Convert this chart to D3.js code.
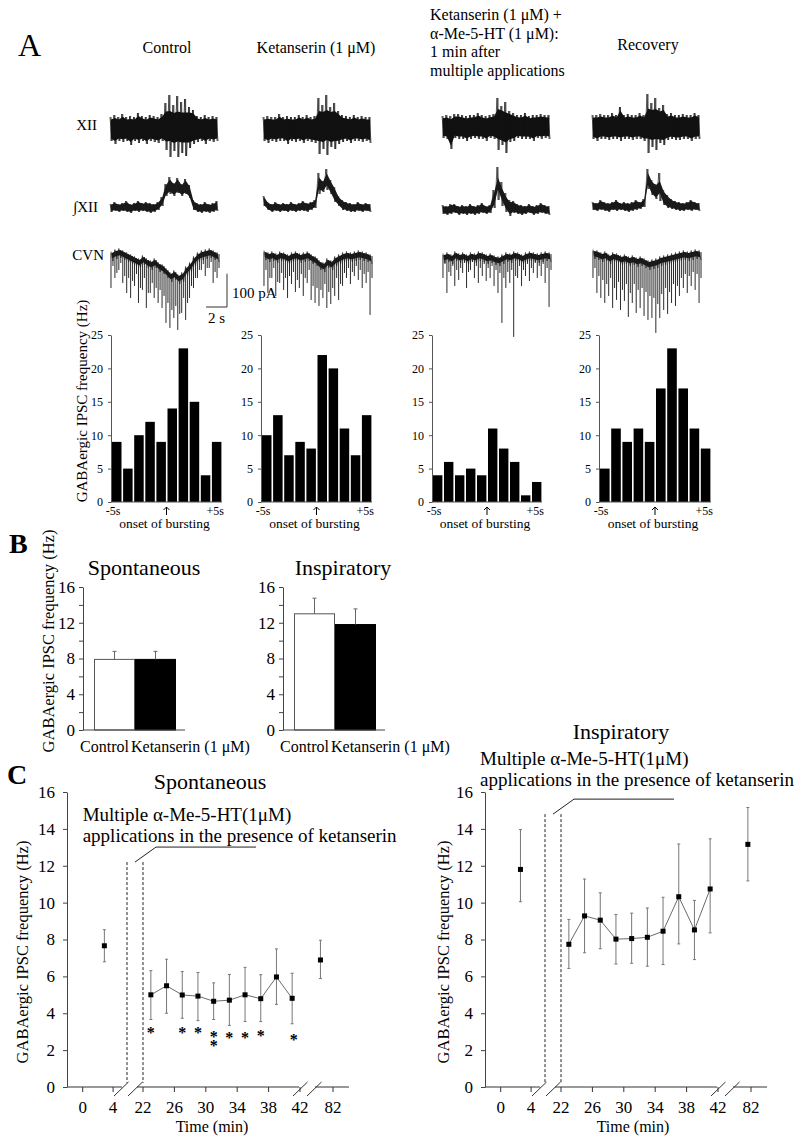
<!DOCTYPE html>
<html><head><meta charset="utf-8">
<script src="https://cdn.jsdelivr.net/npm/d3@7"></script>
<style>
body{margin:0;background:#fff;}
svg{display:block;}
text{font-family:"Liberation Serif","Times New Roman",Times,serif;fill:#000;}
</style></head><body>
<svg id="fig" width="800" height="1147"></svg>
<script>
// ================= DATA =================
const headerLines = [
  ["Control"],
  ["Ketanserin (1 μM)"],
  ["Ketanserin (1 μM) +", "α-Me-5-HT (1 μM):", "1 min after", "multiple applications"],
  ["Recovery"]
];
// Trace envelopes (28 samples over a 10.5 s window), one row per condition
const traceDur = 10.5; // s
// XII nerve: upper / lower envelope (a.u.)
const xiiUp = [
  [12,14,12,15,12,13,12,16,13,12,14,13,12,15,26,34,24,33,27,30,22,19,13,12,14,12,13,12],
  [12,13,12,12,15,12,13,12,12,14,12,14,12,13,31,24,34,22,26,18,14,13,12,14,12,13,12,12],
  [11,12,11,13,13,12,11,12,12,14,12,11,12,13,29,21,25,16,14,12,12,14,11,12,12,13,12,12],
  [12,12,13,12,12,14,12,20,12,13,12,12,14,12,33,24,29,19,22,13,14,12,12,13,12,12,14,12]
];
const xiiDn = [
  [12,15,12,13,12,16,12,14,12,15,12,13,14,12,21,28,22,28,24,27,19,15,13,12,15,12,13,12],
  [12,14,12,13,12,12,15,12,13,12,14,12,13,14,25,20,26,18,20,15,13,12,14,12,12,13,12,14],
  [11,12,22,11,12,12,14,12,11,12,12,14,11,12,23,18,26,15,14,11,12,12,12,14,11,12,11,12],
  [12,14,12,12,13,12,12,14,12,12,13,12,12,14,26,20,23,16,18,13,12,13,13,12,12,14,12,12]
];
// Integrated XII: upper / lower envelope (a.u. above baseline)
const intHi = [
  [4,6,4,5,7,4,5,7,5,6,5,4,6,11,24,31,25,30,24,29,23,8,5,4,6,4,5,7],
  [12,6,4,6,4,5,4,6,4,5,7,5,6,8,35,27,39,28,21,12,8,6,5,4,6,4,5,4],
  [5,4,6,6,4,5,4,6,4,5,7,4,5,20,43,28,17,10,9,6,5,4,6,4,5,7,5,4],
  [5,4,7,5,4,5,7,4,5,4,5,7,5,8,38,27,23,34,17,12,8,6,5,4,5,7,5,4]
];
const intLo = [
  [-4,-3,-4,-3,-4,-5,-3,-4,-3,-4,-5,-4,-2,2,12,14,12,15,12,14,10,-2,-4,-5,-4,-5,-4,-3],
  [2,-2,-4,-3,-4,-3,-4,-3,-4,-3,-3,-4,-2,0,14,16,18,14,6,2,-2,-3,-4,-4,-3,-4,-3,-4],
  [-4,-5,-4,-3,-5,-4,-5,-4,-5,-4,-3,-4,-3,2,10,4,-2,-6,-3,-4,-5,-4,-3,-5,-4,-3,-4,-5],
  [-3,-4,-3,-4,-5,-3,-4,-3,-4,-5,-4,-3,-2,0,18,12,8,6,2,-1,-2,-3,-4,-4,-3,-4,-3,-4]
];
// CVN whole-cell current (pA): upper baseline envelope (28 samples) and IPSC peaks (56 events)
const cvnTop = [
  [-15,-9,-6,-12,-18,-24,-30,-36,-27,-36,-42,-36,-48,-54,-66,-78,-72,-84,-78,-60,-48,-30,-18,-12,-9,-6,-12,-18],
  [-12,-18,-15,-21,-15,-18,-24,-18,-15,-21,-18,-15,-24,-30,-42,-48,-36,-42,-30,-24,-18,-15,-18,-15,-12,-15,-18,-24],
  [-21,-18,-24,-15,-21,-18,-24,-18,-21,-15,-18,-24,-21,-27,-30,-24,-18,-21,-15,-18,-24,-18,-15,-18,-21,-18,-15,-18],
  [-9,-12,-18,-15,-24,-18,-21,-27,-24,-30,-27,-33,-30,-36,-42,-39,-36,-30,-27,-24,-21,-18,-15,-12,-15,-12,-9,-12]
];
const cvnPeak = [
  [-120,-54,-90,-75,-66,-45,-105,-84,-135,-90,-150,-99,-114,-78,-165,-120,-126,-90,-180,-135,-135,-105,-150,-120,-165,-126,-180,-144,
   -225,-165,-240,-186,-210,-174,-246,-198,-195,-150,-216,-165,-150,-114,-120,-90,-90,-66,-66,-48,-84,-60,-60,-42,-105,-72,-90,-60],
  [-114,-66,-135,-90,-90,-60,-144,-102,-105,-75,-126,-90,-150,-84,-108,-72,-132,-96,-120,-78,-144,-90,-105,-66,-156,-114,-165,-120,
   -174,-126,-150,-108,-180,-132,-168,-120,-144,-90,-156,-108,-114,-75,-90,-60,-108,-72,-84,-54,-96,-66,-120,-78,-105,-72,-201,-90],
  [-90,-48,-135,-72,-84,-54,-114,-66,-96,-60,-75,-45,-120,-72,-66,-42,-90,-54,-105,-60,-84,-48,-99,-60,-90,-54,-114,-66,
   -135,-75,-225,-90,-120,-72,-105,-66,-267,-84,-90,-54,-114,-66,-84,-48,-99,-60,-75,-45,-90,-54,-84,-48,-105,-60,-177,-66],
  [-90,-60,-135,-84,-150,-96,-165,-108,-144,-90,-180,-120,-156,-102,-186,-126,-159,-108,-207,-135,-165,-108,-195,-126,-180,-120,-204,-132,
   -216,-144,-210,-150,-255,-168,-210,-138,-186,-120,-198,-132,-165,-108,-174,-114,-144,-90,-120,-78,-135,-84,-114,-72,-126,-78,-165,-90]
];
// Histograms: GABAergic IPSC frequency (Hz), 1-s bins from -5 s to +5 s
const histBinStart = [-5,-4,-3,-2,-1,0,1,2,3,4];
const histControl    = [9,5,10,12,9,14,23,15,4,9];
const histKetanserin = [10,13,7,9,8,22,20,11,7,13];
const histKetAlphaMe = [4,6,4,5,4,11,8,6,1,3];
const histRecovery   = [5,11,9,11,9,17,23,17,11,8];
const histTicks = [0,5,10,15,20,25];
// Panel B
const barGroups = ["Control", "Ketanserin (1 μM)"];
const spontBarMean = [7.9, 7.9];
const spontBarErr  = [0.9, 0.9];
const inspBarMean  = [13.0, 11.8];
const inspBarErr   = [1.75, 1.75];
const bTicks = [0,2,4,6,8,10,12,14,16];
// Panel C
const cTickVals = [0,4,22,26,30,34,38,42,82];
const yTicksC = [0,2,4,6,8,10,12,14,16];
const appTimes = [23,25,27,29,31,33,35,37,39,41];
const spontMean = [5.0,5.49,4.99,4.93,4.65,4.71,5.0,4.79,5.97,4.81];
const spontHi   = [6.31,6.93,6.26,6.21,5.65,6.1,6.49,6.09,7.49,6.17];
const spontLo   = [3.66,4.0,3.73,3.6,3.66,3.34,3.55,3.55,4.48,3.43];
const spontCtrl = [2.85, 7.66, 8.53, 6.79];   // time, mean, hi, lo
const spontRec  = [80.4, 6.89, 7.96, 5.88];
// significance marks: time, level (Hz), number of asterisks stacked
const spontSigT = [23,27,29,31,33,35,37,41.2];
const spontSigV = [3.05,3.05,3.05,2.85,2.77,2.77,2.9,2.7];
const spontSigN = [1,1,1,2,1,1,1,1];
const inspMean = [7.74,9.28,9.05,8.02,8.05,8.12,8.45,10.32,8.52,10.74];
const inspHi   = [9.09,11.28,10.53,9.36,9.43,9.71,10.29,13.18,10.12,13.46];
const inspLo   = [6.43,7.28,7.5,6.67,6.71,6.55,6.64,7.76,6.91,8.36];
const inspCtrl = [2.6, 11.8, 13.96, 10.05];
const inspRec  = [81.6, 13.16, 15.16, 11.18];

// ================= DRAW =================
const svg = d3.select("#fig");
const SANS = '"Liberation Sans",Arial,sans-serif';
function label(x, y, s, size, anchor, extra) {
  const t = svg.append("text").attr("x", x).attr("y", y)
    .attr("font-size", size).attr("text-anchor", anchor || "start").text(s);
  if (extra) for (const k in extra) t.attr(k, extra[k]);
  return t;
}
function styleAxis(g, size, color) {
  g.attr("font-family", '"Liberation Serif","Times New Roman",serif').attr("font-size", size);
  g.selectAll("path,line").attr("stroke", color || "#444");
  g.selectAll("text").attr("fill", "#000");
}

// Panel letters
label(18, 56, "A", 32);
label(9, 553, "B", 28, "start", {"font-weight": "bold"});
label(7, 784, "C", 28, "start", {"font-weight": "bold"});

// Headers
const headerX = [167, 316, 430, 648];
const headerAnchor = ["middle", "middle", "start", "middle"];
const headerBase = [53, 53, 20, 50];
headerLines.forEach((lines, c) => {
  lines.forEach((s, k) => label(headerX[c], headerBase[c] + k * 18.5, s, 16, headerAnchor[c]));
});

// Row labels
label(97, 130, "XII", 15, "end", {"font-family": SANS});
label(98, 212, "∫XII", 15, "end", {"font-family": SANS});
label(104, 260, "CVN", 15, "end");

// Traces
const traceLeft = [110, 263, 442, 592];
const traceWidth = 110;
const xiiMid = [129, 129, 127, 127];
const intBase = [208, 208, 210, 207];
const cvnBase = 248;

function drawBand(xs, ys, hi, lo, dt, coreMax, color) {
  const idx = d3.range(hi.length);
  const mid = i => (hi[i] + lo[i]) / 2;
  const half = i => Math.min(0.8 * (hi[i] - lo[i]) / 2, coreMax);
  const area = d3.area()
    .x(i => xs(i * dt + dt / 4))
    .y0(i => ys(mid(i) - half(i)))
    .y1(i => ys(mid(i) + half(i)));
  svg.append("path").attr("d", area(idx)).attr("fill", color);
  const pts = [];
  idx.forEach(i => { pts.push([xs(i * dt), ys(hi[i])]); pts.push([xs(i * dt + dt / 2), ys(lo[i])]); });
  svg.append("path").attr("d", d3.line()(pts)).attr("fill", "none")
    .attr("stroke", color).attr("stroke-width", 0.7);
  svg.append("g").selectAll("line").data(idx).join("line")
    .attr("x1", i => xs(i * dt + dt / 4)).attr("x2", i => xs(i * dt + dt / 4))
    .attr("y1", i => ys(hi[i])).attr("y2", i => ys(lo[i]))
    .attr("stroke", color).attr("stroke-width", 0.8);
}

let cvnScale, timeScale0;
traceLeft.forEach((x0, c) => {
  const n = xiiUp[c].length, dt = traceDur / n;
  const xs = d3.scaleLinear().domain([0, traceDur]).range([x0, x0 + traceWidth]);
  if (c === 0) timeScale0 = xs;
  const yX = d3.scaleLinear().domain([0, 1]).range([xiiMid[c], xiiMid[c] - 1]);
  drawBand(xs, yX, xiiUp[c], xiiDn[c].map(v => -v), dt, 15, "#111");
  const yI = d3.scaleLinear().domain([0, 1]).range([intBase[c], intBase[c] - 1]);
  drawBand(xs, yI, intHi[c], intLo[c], dt, 6, "#1a1a1a");
  const yC = d3.scaleLinear().domain([0, -100]).range([cvnBase, cvnBase + 33.3]);
  if (c === 0) cvnScale = yC;
  const idx = d3.range(n);
  const m = cvnPeak[c].length, de = traceDur / m;
  svg.append("g").selectAll("line").data(d3.range(m)).join("line")
    .attr("x1", j => xs(j * de + de / 2)).attr("x2", j => xs(j * de + de / 2))
    .attr("y1", j => yC(cvnTop[c][Math.floor(j * n / m)]))
    .attr("y2", j => yC(cvnPeak[c][j]))
    .attr("stroke", "#2a2a2a").attr("stroke-width", 1);
  const band = d3.area().x(i => xs(i * dt + dt / 2))
    .y0(i => yC(cvnTop[c][i])).y1(i => yC(cvnTop[c][i] - 16));
  svg.append("path").attr("d", band(idx)).attr("fill", "#151515");
  const zz = [];
  idx.forEach(i => { zz.push([xs(i * dt + dt / 4), yC(cvnTop[c][i]) - 1.5]); zz.push([xs(i * dt + dt * 0.75), yC(cvnTop[c][i] - 24)]); });
  svg.append("path").attr("d", d3.line()(zz)).attr("fill", "none").attr("stroke", "#222").attr("stroke-width", 0.7);
});

// Scale bar (2 s, 100 pA)
{
  const w = timeScale0(2) - timeScale0(0);
  const h = cvnScale(-100) - cvnScale(0);
  const sx = 227, sy = 307;
  svg.append("path").attr("d", `M${sx - w},${sy}H${sx}V${sy - h}`)
    .attr("fill", "none").attr("stroke", "#333").attr("stroke-width", 1);
  label(232, 298, "100 pA", 15);
  label(sx - w / 2, 323, "2 s", 15, "middle");
}

// Histograms
const histCounts = [histControl, histKetanserin, histKetAlphaMe, histRecovery];
const histAxisX = [111, 261, 432, 599];
const histW = [111, 111, 110, 112];
const yH = d3.scaleLinear().domain([0, 25]).range([502, 335]);
histCounts.forEach((vals, c) => {
  const x0 = histAxisX[c];
  const xt = d3.scaleLinear().domain([-5, 5]).range([x0, x0 + histW[c]]);
  svg.append("g").selectAll("rect").data(vals).join("rect")
    .attr("x", (v, k) => xt(histBinStart[k]) + 1)
    .attr("width", xt(1) - xt(0) - 1.6)
    .attr("y", v => yH(v)).attr("height", v => yH(0) - yH(v))
    .attr("fill", "#000");
  const ax = svg.append("g").attr("transform", `translate(${x0},0)`)
    .call(d3.axisLeft(yH).tickValues(histTicks).tickSize(3).tickPadding(5).tickSizeOuter(0));
  styleAxis(ax, 12, "#555");
  svg.append("line").attr("x1", x0).attr("x2", x0 + histW[c]).attr("y1", yH(0)).attr("y2", yH(0))
    .attr("stroke", "#555");
  label(xt(-5) + 2, 515, "-5s", 12, "middle");
  label(xt(5) + 2, 515, "+5s", 12, "end");
  // onset arrow (drawn mark)
  const ax0 = xt(0);
  svg.append("path").attr("d", `M${ax0},515V507M${ax0 - 3},510L${ax0},507L${ax0 + 3},510`)
    .attr("fill", "none").attr("stroke", "#000").attr("stroke-width", 1);
  label(ax0 - 2, 528, "onset of bursting", 13.5, "middle");
});
label(0, 0, "GABAergic IPSC frequency (Hz)", 15, "middle",
  {"transform": "translate(82,401) rotate(-90)", "dominant-baseline": "central"});

// Panel B
const yB = d3.scaleLinear().domain([0, 16]).range([730, 587]);
[["Spontaneous", spontBarMean, spontBarErr, 83, 144],
 ["Inspiratory", inspBarMean, inspBarErr, 283, 343]].forEach(([title, means, errs, x0, tx]) => {
  const xb = d3.scaleBand().domain(barGroups).range([x0 + 11, x0 + 93]);
  const g = svg.append("g");
  g.selectAll("rect").data(means).join("rect")
    .attr("x", (m, i) => xb(barGroups[i]) + 0.5).attr("width", xb.bandwidth() - 1)
    .attr("y", m => yB(m)).attr("height", m => yB(0) - yB(m))
    .attr("fill", (m, i) => i === 0 ? "#fff" : "#000")
    .attr("stroke", (m, i) => i === 0 ? "#555" : "#000");
  means.forEach((m, i) => {
    const cx = xb(barGroups[i]) + xb.bandwidth() / 2;
    g.append("line").attr("x1", cx).attr("x2", cx).attr("y1", yB(m)).attr("y2", yB(m + errs[i]))
      .attr("stroke", "#666");
    g.append("line").attr("x1", cx - 2).attr("x2", cx + 2).attr("y1", yB(m + errs[i])).attr("y2", yB(m + errs[i]))
      .attr("stroke", "#666");
  });
  const ax = svg.append("g").attr("transform", `translate(${x0},0)`)
    .call(d3.axisLeft(yB).tickValues(bTicks).tickFormat(d => d % 4 === 0 ? d : "")
      .tickSize(4).tickPadding(4).tickSizeOuter(0));
  styleAxis(ax, 17, "#444");
  svg.append("line").attr("x1", x0).attr("x2", x0 + 102).attr("y1", yB(0)).attr("y2", yB(0)).attr("stroke", "#444");
  label(x0 + 46, 752, barGroups[0], 16, "end");
  label(x0 + 48, 752, barGroups[1], 16, "start");
  label(tx, 575, title, 22, "middle");
});
label(0, 0, "GABAergic IPSC frequency (Hz)", 16.5, "middle",
  {"transform": "translate(48,641) rotate(-90)", "dominant-baseline": "central"});

// Panel C
const yCh = d3.scaleLinear().domain([0, 16]).range([1087, 792]);
function xSeg(x0) {
  const s1 = d3.scaleLinear().domain([0, 4]).range([x0 + 15.7, x0 + 46.1]);
  const s2 = d3.scaleLinear().domain([22, 42]).range([x0 + 76, x0 + 233]);
  const s3 = d3.scaleLinear().domain([78, 82]).range([x0 + 234.6, x0 + 266]);
  return t => t < 10 ? s1(t) : (t < 60 ? s2(t) : s3(t));
}
function drawC(o) {
  const x0 = o.x0, xC = xSeg(x0), ay = yCh(0);
  const g = svg.append("g");
  const ax = svg.append("g").attr("transform", `translate(${x0},0)`)
    .call(d3.axisLeft(yCh).tickValues(yTicksC).tickSize(4).tickPadding(8).tickSizeOuter(0));
  styleAxis(ax, 17, "#444");
  [[0, 55], [70, 232], [248, 282]].forEach(([a, b]) =>
    g.append("line").attr("x1", x0 + a).attr("x2", x0 + b).attr("y1", ay).attr("y2", ay).attr("stroke", "#333"));
  [47, 61, 226, 240].forEach(a =>
    g.append("line").attr("x1", x0 + a).attr("y1", ay + 9).attr("x2", x0 + a + 14.5).attr("y2", ay - 5)
      .attr("stroke", "#333"));
  cTickVals.forEach(t => {
    g.append("line").attr("x1", xC(t)).attr("x2", xC(t)).attr("y1", ay).attr("y2", ay + 5).attr("stroke", "#333");
    label(xC(t), ay + 26, String(t), 17, "middle");
  });
  label(x0 + o.timeX, 1132, "Time (min)", 16, "middle");
  const dTop = yCh(o.dashTop);
  [60, 76].forEach(a => g.append("line").attr("x1", x0 + a).attr("x2", x0 + a)
    .attr("y1", dTop).attr("y2", ay - 4).attr("stroke", "#222").attr("stroke-dasharray", "3,2"));
  g.append("path").attr("d", `M${x0 + 68},${dTop}L${x0 + 89},${dTop - 15}H${x0 + 189}`)
    .attr("fill", "none").attr("stroke", "#222");
  label(x0 + o.annX, o.annY, "Multiple α-Me-5-HT(1μM)", 19);
  label(x0 + o.annX, o.annY + 21, "applications in the presence of ketanserin", 19);
  label(o.titleX, o.titleY, o.title, 22, "middle");
  label(0, 0, "GABAergic IPSC frequency (Hz)", 16.5, "middle",
    {"transform": `translate(${o.ylabX},952) rotate(-90)`, "dominant-baseline": "central"});
  const pts = o.times.map((t, i) => [t, o.mean[i], o.hi[i], o.lo[i]]);
  const all = [o.ctrl, ...pts, o.rec];
  all.forEach(([t, m, h, l]) => {
    g.append("line").attr("x1", xC(t)).attr("x2", xC(t)).attr("y1", yCh(h)).attr("y2", yCh(l)).attr("stroke", "#777");
    [h, l].forEach(v => g.append("line").attr("x1", xC(t) - 1.5).attr("x2", xC(t) + 1.5)
      .attr("y1", yCh(v)).attr("y2", yCh(v)).attr("stroke", "#777"));
  });
  g.append("path").attr("d", d3.line().x(d => xC(d[0])).y(d => yCh(d[1]))(pts))
    .attr("fill", "none").attr("stroke", "#444").attr("stroke-width", 0.8);
  g.selectAll("rect.pt").data(all).join("rect").attr("class", "pt")
    .attr("x", d => xC(d[0]) - 2.5).attr("y", d => yCh(d[1]) - 2.5)
    .attr("width", 5).attr("height", 5).attr("fill", "#000");
  if (o.sigT) o.sigT.forEach((t, i) => {
    const tx = label(xC(t), yCh(o.sigV[i]) + 7.5, "", 16, "middle", {"font-weight": "bold"});
    d3.range(o.sigN[i]).forEach(k => tx.append("tspan").attr("x", xC(t)).attr("dy", k === 0 ? 0 : 9).text("*"));
  });
}
drawC({x0: 67, times: appTimes, mean: spontMean, hi: spontHi, lo: spontLo, ctrl: spontCtrl, rec: spontRec,
  sigT: spontSigT, sigV: spontSigV, sigN: spontSigN, dashTop: 12.2, annX: 15.7, annY: 821, title: "Spontaneous",
  titleX: 210, titleY: 789, ylabX: 22, timeX: 145});
drawC({x0: 485, times: appTimes, mean: inspMean, hi: inspHi, lo: inspLo, ctrl: inspCtrl, rec: inspRec,
  dashTop: 14.8, annX: -5, annY: 765, title: "Inspiratory",
  titleX: 621, titleY: 739, ylabX: 443, timeX: 148});
</script>
</body></html>
